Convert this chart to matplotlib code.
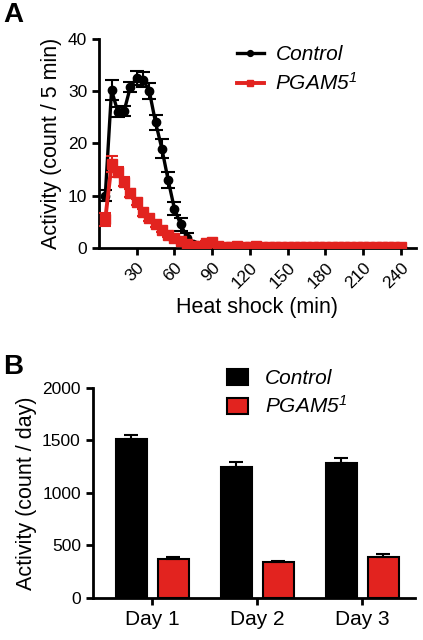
import matplotlib
matplotlib.use('Agg')
import matplotlib.pyplot as plt
import numpy as np

plt.rcParams['font.family'] = ['Liberation Sans', 'DejaVu Sans']
# only the PGAM5 labels use mathtext, and they are all italic
plt.rcParams['mathtext.fontset'] = 'custom'
plt.rcParams['mathtext.it'] = 'Liberation Sans:italic'
plt.rcParams['mathtext.rm'] = 'Liberation Sans:italic'

RED = '#e2231f'
PGAM_LABEL = '$PGAM5^{1}$'

# panel A: activity during heat shock, every 5 min
time_min = [5, 10, 15, 20, 25, 30, 35, 40, 45, 50, 55, 60, 65, 70, 75, 80,
            85, 90, 95, 100, 105, 110, 115, 120, 125, 130, 135, 140, 145, 150,
            155, 160, 165, 170, 175, 180, 185, 190, 195, 200, 205, 210, 215,
            220, 225, 230, 235, 240]
control_act = [10.0, 30.2, 26.0, 26.2, 30.8, 32.5, 32.2, 30.0, 24.0, 19.0,
               13.0, 7.5, 4.5, 2.0, 0.8, 0.3, 0.1, 0.0, 0.0, 0.0, 0.0, 0.0,
               0.0, 0.0, 0.0, 0.0, 0.0, 0.0, 0.0, 0.0, 0.0, 0.0, 0.0, 0.0,
               0.0, 0.0, 0.0, 0.0, 0.0, 0.0, 0.0, 0.0, 0.0, 0.0, 0.0, 0.0,
               0.0, 0.0]
control_err = [1.0, 2.0, 1.0, 1.0, 1.0, 1.3, 1.5, 1.5, 1.5, 1.8, 1.5, 1.2,
               1.2, 0.8, 0.4, 0.2, 0.1, 0.0, 0.0, 0.0, 0.0, 0.0, 0.0, 0.0,
               0.0, 0.0, 0.0, 0.0, 0.0, 0.0, 0.0, 0.0, 0.0, 0.0, 0.0, 0.0,
               0.0, 0.0, 0.0, 0.0, 0.0, 0.0, 0.0, 0.0, 0.0, 0.0, 0.0, 0.0]
pgam_act = [5.5, 16.0, 14.5, 12.7, 10.5, 8.8, 6.8, 5.7, 4.6, 3.4, 2.5, 1.9,
            1.3, 0.8, 0.4, 0.3, 1.0, 1.1, 0.4, 0.2, 0.2, 0.3, 0.2, 0.2, 0.3,
            0.2, 0.2, 0.2, 0.2, 0.2, 0.2, 0.2, 0.2, 0.2, 0.2, 0.2, 0.2, 0.2,
            0.2, 0.2, 0.2, 0.2, 0.2, 0.2, 0.2, 0.2, 0.2, 0.2]
pgam_err = [1.2, 1.5, 1.0, 0.8, 0.7, 0.6, 0.6, 0.5, 0.5, 0.4, 0.4, 0.3,
            0.3, 0.3, 0.2, 0.2, 0.4, 0.4, 0.2, 0.1, 0.1, 0.1, 0.1, 0.1,
            0.1, 0.1, 0.1, 0.1, 0.1, 0.1, 0.1, 0.1, 0.1, 0.1, 0.1, 0.1,
            0.1, 0.1, 0.1, 0.1, 0.1, 0.1, 0.1, 0.1, 0.1, 0.1, 0.1, 0.1]
a_xticks = [30, 60, 90, 120, 150, 180, 210, 240]
a_yticks = [0, 10, 20, 30, 40]

# panel B: daily activity
days = ['Day 1', 'Day 2', 'Day 3']
control_day = [1510, 1245, 1280]
control_day_err = [45, 45, 50]
pgam_day = [372, 338, 392]
pgam_day_err = [14, 14, 22]
b_yticks = [0, 500, 1000, 1500, 2000]

fig = plt.figure(figsize=(4.23, 6.4), dpi=100)

# ---- panel A
ax1 = fig.add_axes([0.234, 0.6125, 0.749, 0.327])
c1 = ax1.errorbar(time_min, control_act, yerr=control_err, color='black', lw=2.4,
                  marker='o', ms=6, capsize=5, elinewidth=1.5, capthick=1.5,
                  zorder=3)
c2 = ax1.errorbar(time_min, pgam_act, yerr=pgam_err, color=RED, lw=2.8,
                  marker='s', ms=6.7, capsize=4, elinewidth=1.5, capthick=1.5,
                  zorder=4)
ax1.set_xlim(0, 252)
ax1.set_ylim(0, 40)
ax1.set_xticks(a_xticks)
ax1.set_xticklabels([str(t) for t in a_xticks], rotation=45,
                    ha='right', rotation_mode='anchor')
ax1.set_yticks(a_yticks)
ax1.set_xlabel('Heat shock (min)', fontsize=15.5)
ax1.set_ylabel('Activity (count / 5 min)', fontsize=15.5, labelpad=4)
leg1 = ax1.legend([c1[0], c2[0]], ['Control', PGAM_LABEL],
                  loc='upper left', bbox_to_anchor=(0.560, 0.93),
                  bbox_transform=fig.transFigure, frameon=False,
                  fontsize=15, handlelength=1.3, handletextpad=0.55,
                  labelspacing=0.4, borderpad=0, borderaxespad=0,
                  markerscale=0.7)
for t in leg1.get_texts():
    t.set_fontstyle('italic')

# ---- panel B
ax2 = fig.add_axes([0.219, 0.066, 0.762, 0.328])
x = np.arange(len(days))
ax2.bar(x - 0.2, control_day, width=0.3, color='black', edgecolor='black',
        lw=1.5, label='Control')
ax2.errorbar(x - 0.2, control_day, yerr=[[0] * 3, control_day_err],
             fmt='none', ecolor='black', capsize=5, elinewidth=1.5, capthick=1.5)
ax2.bar(x + 0.2, pgam_day, width=0.3, color=RED, edgecolor='black',
        lw=1.5, label=PGAM_LABEL)
ax2.errorbar(x + 0.2, pgam_day, yerr=[[0] * 3, pgam_day_err],
             fmt='none', ecolor='black', capsize=5, elinewidth=1.5, capthick=1.5)
ax2.set_xlim(-0.57, 2.5)
ax2.set_ylim(0, 2000)
ax2.set_xticks(x)
ax2.set_yticks(b_yticks)
ax2.set_ylabel('Activity (count / day)', fontsize=15.5, labelpad=4)
leg2 = ax2.legend(loc='upper left', bbox_to_anchor=(0.537, 0.424),
                  bbox_transform=fig.transFigure, frameon=False,
                  fontsize=15, handlelength=1.0, handleheight=0.8,
                  handletextpad=0.8, labelspacing=0.35, borderpad=0,
                  borderaxespad=0)
for t in leg2.get_texts():
    t.set_fontstyle('italic')

for ax in (ax1, ax2):
    for s in ('top', 'right'):
        ax.spines[s].set_visible(False)
    for s in ('left', 'bottom'):
        ax.spines[s].set_linewidth(2)
    ax.tick_params(width=2, length=5, labelsize=12.5)

ax2.set_xticklabels(days, fontsize=15)

fig.text(0.008, 0.977, 'A', fontsize=20, fontweight='bold', va='center')
fig.text(0.008, 0.426, 'B', fontsize=20, fontweight='bold', va='center')

fig.savefig('out.png', dpi=100)
